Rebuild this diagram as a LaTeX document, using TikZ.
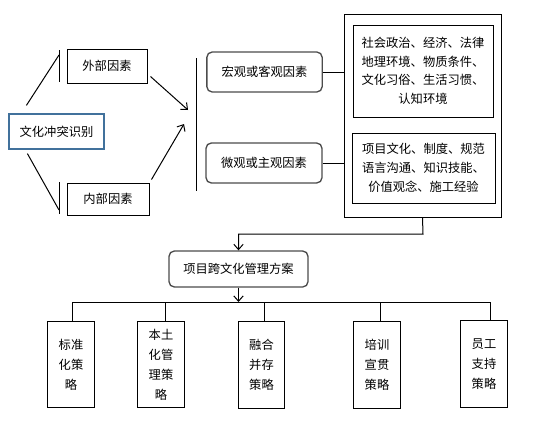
\documentclass[tikz,border=0pt]{standalone}
\usepackage{fontspec}
\setmainfont{Noto Sans CJK SC}
\usepackage{tikz}
\usetikzlibrary{positioning, arrows.meta, calc}
\definecolor{boxblue}{HTML}{41719C}

\begin{document}
\begin{tikzpicture}[
  x=0.75pt, y=-0.75pt,
  every node/.style={font=\fontsize{9.2}{14}\selectfont, align=center, inner sep=1pt},
  plainbox/.style={draw, line width=0.75pt},
  roundbox/.style={draw=black!70, line width=1pt, rounded corners=4pt},
  stratbox/.style={draw, line width=0.75pt, minimum width=35pt, minimum height=65pt,
    font=\fontsize{9.2}{15}\selectfont},
  line width=0.75pt, >={Straight Barb[length=4pt,width=7pt]}
]
  \useasboundingbox (0,0) rectangle (542,421);

  \node[draw=boxblue, line width=0.9pt, minimum width=71.25pt, minimum height=26.25pt] (conflict) at (56.5,131.5) {文化冲突识别};
  \node[plainbox, minimum width=60pt, minimum height=25.5pt] (outer) at (107,66) {外部因素};
  \node[plainbox, minimum width=61.5pt, minimum height=24pt] (inner) at (108,199) {内部因素};
  \node[roundbox, minimum width=86.5pt, minimum height=30pt] (macro) at (264.5,72) {宏观或客观因素};
  \node[roundbox, minimum width=87pt, minimum height=30pt] (micro) at (264,163) {微观或主观因素};
  \node[plainbox, minimum width=117.75pt, minimum height=152.25pt] (frame) at (422.5,115.5) {};
  \node[plainbox, minimum width=105pt, minimum height=69pt] (macrolist) at (423,71)
    {社会政治、经济、法律\\地理环境、物质条件、\\文化习俗、生活习惯、\\认知环境};
  \node[plainbox, minimum width=107.25pt, minimum height=52.5pt] (microlist) at (423.5,168)
    {项目文化、制度、规范\\语言沟通、知识技能、\\价值观念、施工经验};
  \node[roundbox, minimum width=104.25pt, minimum height=27pt] (plan) at (238.5,269) {项目跨文化管理方案};

  \node[stratbox] (s1) at (71,364.5)  {标准\\化策\\略};
  \node[stratbox] (s2) at (161,364.5) {本土\\化管\\理策\\略};
  \node[stratbox] (s3) at (261.5,365) {融合\\并存\\策略};
  \node[stratbox] (s4) at (377,365)   {培训\\宣贯\\策略};
  \node[stratbox] (s5) at (484,364)   {员工\\支持\\策略};

  % brackets
  \coordinate (b1top) at (59,50);  \coordinate (b1bot) at (59,82);
  \coordinate (b2top) at (59,182); \coordinate (b2bot) at (59,214);
  \coordinate (b3top) at (196,58); \coordinate (b3bot) at (196,191);
  \draw (b1top) -- (b1bot);
  \draw (b2top) -- (b2bot);
  \draw (b3top) -- (b3bot);

  \draw ($(conflict.north west)+(18,-8)$) -- (59,55);
  \draw ($(conflict.south west)+(19,4)$) -- (59,210);
  \draw[->] ($(outer.south east)+(3,-7)$) -- (188,110);
  \draw[->] ($(inner.north east)+(2,-3)$) -- (184,124);

  \draw (macro.east) -- (macro.east -| frame.west);
  \draw (micro.east) -- (micro.east -| frame.west);

  \coordinate (turn) at (423,234);
  \draw[->] (frame.south) -- (turn) -- (turn -| plan.north) -- (plan.north);

  % bus to strategies
  \coordinate (busl) at (72,302);
  \coordinate (busr) at (490,302);
  \draw[->] (plan.south) -- (plan.south |- busl);
  \draw (busl) -- (busr);
  \foreach \s/\d in {s1/1,s2/4,s3/2.5,s4/3,s5/6}
    \draw ([xshift=\d*0.75pt]\s.north |- busl) -- ([xshift=\d*0.75pt]\s.north);
\end{tikzpicture}
\end{document}
